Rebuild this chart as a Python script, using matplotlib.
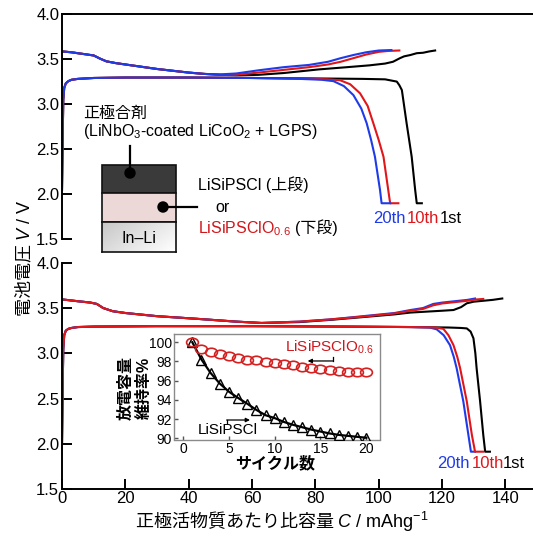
import matplotlib
matplotlib.use("Agg")
import matplotlib.pyplot as plt
from matplotlib.patches import Rectangle, Circle
from matplotlib.lines import Line2D
from matplotlib.path import Path
import numpy as np

plt.rcParams['font.family'] = ['Liberation Sans', 'Noto Sans CJK JP']
plt.rcParams['mathtext.fontset'] = 'custom'
plt.rcParams['mathtext.rm'] = 'Liberation Sans'
plt.rcParams['mathtext.it'] = 'Liberation Sans:italic'
plt.rcParams['mathtext.bf'] = 'Liberation Sans:bold'

# ---------------- data ----------------
cycle_labels = ["1st", "10th", "20th"]
colors = {"1st": "#000000", "10th": "#e0161b", "20th": "#1f3be8"}

# Top panel: LiSiPSCl  (upper curve)
top_up_x_1st = [0, 3, 6, 8, 10, 12, 14, 17, 20, 25, 30, 35, 40, 45, 50, 55, 62, 70, 81, 90, 97, 102, 104.5, 106.7, 108, 110, 112, 114, 116, 117.8]
top_up_v_1st = [3.585, 3.575, 3.56, 3.55, 3.54, 3.505, 3.475, 3.455, 3.44, 3.415, 3.39, 3.37, 3.35, 3.335, 3.325, 3.32, 3.325, 3.345, 3.385, 3.41, 3.43, 3.45, 3.47, 3.51, 3.53, 3.545, 3.565, 3.57, 3.585, 3.595]
top_up_x_10th = [0, 3, 6, 8, 10, 12, 14, 17, 20, 25, 30, 35, 40, 45, 50, 55, 62, 70, 78, 84, 88, 92, 96, 100, 103, 106.5]
top_up_v_10th = [3.585, 3.575, 3.56, 3.55, 3.54, 3.505, 3.475, 3.455, 3.44, 3.415, 3.39, 3.37, 3.35, 3.335, 3.325, 3.325, 3.35, 3.38, 3.41, 3.44, 3.47, 3.51, 3.55, 3.58, 3.59, 3.595]
top_up_x_20th = [0, 3, 6, 8, 10, 12, 14, 17, 20, 25, 30, 35, 40, 45, 50, 55, 62, 70, 78, 84, 88, 92, 96, 100, 104]
top_up_v_20th = [3.585, 3.575, 3.56, 3.55, 3.54, 3.505, 3.475, 3.455, 3.44, 3.415, 3.39, 3.37, 3.35, 3.335, 3.33, 3.34, 3.375, 3.41, 3.435, 3.47, 3.51, 3.545, 3.575, 3.595, 3.6]

# Top panel: lower curve
top_lo_x_1st = [0, 0.2, 0.4, 0.7, 1.2, 2, 3, 5, 10, 20, 40, 60, 80, 95, 102, 105.7, 106.5, 107.3, 108.8, 110.4, 111.5, 112, 113.6]
top_lo_v_1st = [2.05, 2.6, 3.05, 3.18, 3.23, 3.255, 3.27, 3.28, 3.29, 3.295, 3.295, 3.29, 3.285, 3.28, 3.275, 3.25, 3.21, 3.156, 2.787, 2.416, 2.047, 1.90, 1.90]
top_lo_x_10th = [0, 0.2, 0.4, 0.7, 1.2, 2, 3, 5, 10, 20, 40, 60, 75, 84, 87.8, 91, 94.1, 96.5, 98.3, 100, 101.5, 103, 103.6, 106.2]
top_lo_v_10th = [2.05, 2.6, 3.05, 3.18, 3.23, 3.255, 3.27, 3.28, 3.29, 3.295, 3.295, 3.29, 3.285, 3.275, 3.265, 3.22, 3.12, 2.98, 2.787, 2.6, 2.416, 2.047, 1.90, 1.90]
top_lo_x_20th = [0, 0.2, 0.4, 0.7, 1.2, 2, 3, 5, 10, 20, 40, 60, 75, 82, 85.7, 89, 92, 94.5, 96.2, 97.6, 98.8, 100.4, 100.9, 103.6]
top_lo_v_20th = [2.05, 2.6, 3.05, 3.18, 3.23, 3.255, 3.27, 3.28, 3.29, 3.295, 3.295, 3.29, 3.28, 3.27, 3.255, 3.2, 3.10, 2.95, 2.787, 2.6, 2.416, 2.047, 1.90, 1.90]

# Bottom panel: LiSiPSClO0.6 (upper curve)
bot_up_x_1st = [0, 5, 9, 11, 13, 16, 20, 30, 43, 55, 63, 75, 85, 95, 105, 110, 115, 120, 123.6, 126, 127.8, 130, 133, 136, 139]
bot_up_v_1st = [3.595, 3.575, 3.56, 3.545, 3.5, 3.465, 3.445, 3.41, 3.38, 3.35, 3.335, 3.345, 3.37, 3.40, 3.43, 3.45, 3.46, 3.47, 3.478, 3.51, 3.552, 3.57, 3.58, 3.59, 3.605]
bot_up_x_10th = [0, 5, 9, 11, 13, 16, 20, 30, 43, 55, 63, 75, 85, 95, 105, 110, 114, 117.2, 120, 124, 128, 131, 133]
bot_up_v_10th = [3.595, 3.575, 3.56, 3.545, 3.5, 3.465, 3.445, 3.41, 3.38, 3.35, 3.335, 3.35, 3.375, 3.405, 3.44, 3.47, 3.49, 3.53, 3.55, 3.565, 3.58, 3.595, 3.60]
bot_up_x_20th = [0, 5, 9, 11, 13, 16, 20, 30, 43, 55, 63, 75, 85, 95, 105, 110, 114, 117.2, 120, 124, 128, 130.4]
bot_up_v_20th = [3.595, 3.575, 3.56, 3.545, 3.5, 3.465, 3.445, 3.41, 3.38, 3.35, 3.335, 3.35, 3.375, 3.41, 3.445, 3.478, 3.50, 3.545, 3.56, 3.575, 3.59, 3.605]

# Bottom panel: lower curve
bot_lo_x_1st = [0, 0.2, 0.4, 0.7, 1.2, 2, 3, 5, 10, 30, 60, 90, 110, 122, 126, 127.8, 129, 129.9, 130.5, 130.9, 132, 133, 133.6, 135.1]
bot_lo_v_1st = [2.0, 2.6, 3.05, 3.2, 3.25, 3.27, 3.28, 3.29, 3.295, 3.3, 3.3, 3.295, 3.29, 3.285, 3.28, 3.275, 3.24, 3.166, 3.0, 2.835, 2.47, 2.10, 1.915, 1.915]
bot_lo_x_10th = [0, 0.2, 0.4, 0.7, 1.2, 2, 3, 5, 10, 30, 60, 90, 110, 118, 120.4, 122, 123.6, 124.8, 125.7, 127.8, 129.4, 130.4, 133]
bot_lo_v_10th = [2.0, 2.6, 3.05, 3.2, 3.25, 3.27, 3.28, 3.29, 3.295, 3.3, 3.3, 3.295, 3.29, 3.285, 3.27, 3.2, 3.09, 2.96, 2.835, 2.47, 2.10, 1.915, 1.915]
bot_lo_x_20th = [0, 0.2, 0.4, 0.7, 1.2, 2, 3, 5, 10, 30, 60, 90, 110, 116, 118.3, 120.5, 122.5, 123.7, 124.6, 126.7, 128.3, 129.1, 130.4]
bot_lo_v_20th = [2.0, 2.6, 3.05, 3.2, 3.25, 3.27, 3.28, 3.29, 3.295, 3.3, 3.3, 3.295, 3.29, 3.285, 3.265, 3.2, 3.09, 2.96, 2.835, 2.47, 2.10, 1.915, 1.915]

# Inset: capacity retention vs cycle
cycles = list(range(1, 21))
ret_oxy = [100.0, 99.3, 99.0, 98.8, 98.6, 98.35, 98.2, 98.1, 97.95, 97.8, 97.75, 97.6, 97.45, 97.35, 97.25, 97.1, 97.0, 96.95, 96.9, 96.9]
ret_cl = [100.0, 98.2, 96.8, 95.7, 94.85, 94.2, 93.6, 92.95, 92.4, 92.1, 91.7, 91.4, 91.15, 90.9, 90.7, 90.5, 90.35, 90.25, 90.15, 90.05]

x_ticks = [0, 20, 40, 60, 80, 100, 120, 140]
y_ticks = [1.5, 2.0, 2.5, 3.0, 3.5, 4.0]
inset_x_ticks = [0, 5, 10, 15, 20]
inset_y_ticks = [90, 92, 94, 96, 98, 100]

# ---------------- figure ----------------
W, H = 533, 536
fig = plt.figure(figsize=(W / 100, H / 100), dpi=100)


def fx(px):
    return px / W


def fy(py):
    return 1 - py / H


ax_top = fig.add_axes([fx(62), fy(239.3), 1 - fx(62), fy(14) - fy(239.3)])
ax_bot = fig.add_axes([fx(62), fy(489.3), 1 - fx(62), fy(262.7) - fy(489.3)])

LW = 1.5
for ax in (ax_top, ax_bot):
    ax.set_xlim(0, 148.7)
    ax.set_ylim(1.5, 4.0)
    ax.set_yticks(y_ticks)
    ax.set_yticklabels([f"{t:.1f}" for t in y_ticks], fontsize=12)
    ax.spines['right'].set_visible(False)
    for s in ax.spines.values():
        s.set_linewidth(1.4)
    ax.tick_params(axis='y', direction='in', length=7, width=1.4, pad=2)
    ax.tick_params(axis='x', direction='in', length=7, width=1.4, pad=1)
    ax.patch.set_alpha(0)

ax_top.spines['bottom'].set_visible(False)
ax_top.set_xticks([])
ax_bot.spines['top'].set_visible(False)
ax_bot.set_xticks(x_ticks)
ax_bot.set_xticklabels([str(t) for t in x_ticks], fontsize=12)

# top panel curves (blue drawn last)
top_up = {"1st": (top_up_x_1st, top_up_v_1st), "10th": (top_up_x_10th, top_up_v_10th), "20th": (top_up_x_20th, top_up_v_20th)}
top_lo = {"1st": (top_lo_x_1st, top_lo_v_1st), "10th": (top_lo_x_10th, top_lo_v_10th), "20th": (top_lo_x_20th, top_lo_v_20th)}
for lab in ["1st", "10th", "20th"]:
    ax_top.plot(*top_up[lab], color=colors[lab], lw=LW, solid_joinstyle='round')
    ax_top.plot(*top_lo[lab], color=colors[lab], lw=LW, solid_joinstyle='round')

bot_up = {"1st": (bot_up_x_1st, bot_up_v_1st), "10th": (bot_up_x_10th, bot_up_v_10th), "20th": (bot_up_x_20th, bot_up_v_20th)}
bot_lo = {"1st": (bot_lo_x_1st, bot_lo_v_1st), "10th": (bot_lo_x_10th, bot_lo_v_10th), "20th": (bot_lo_x_20th, bot_lo_v_20th)}
for lab in ["1st", "20th", "10th"]:
    ax_bot.plot(*bot_up[lab], color=colors[lab], lw=LW, solid_joinstyle='round')
    ax_bot.plot(*bot_lo[lab], color=colors[lab], lw=LW, solid_joinstyle='round')

# cycle labels
for ax, xs, yv in ((ax_top, [98.2, 108.9, 119.4], 1.736), (ax_bot, [118.3, 129.3, 139.3], 1.787)):
    for lab, xx in zip(["20th", "10th", "1st"], xs):
        ax.text(xx, yv, lab, color=colors[lab], fontsize=12, ha='left', va='center')

# axis labels (CJK family so the non-math part renders)
fig.text(fx(282), fy(522), r"正極活物質あたり比容量 $C\ /\ \mathrm{mAhg}^{-1}$", fontsize=13,
         ha='center', va='center', family='Noto Sans CJK JP')
fig.text(fx(24), fy(258), r"電池電圧 $V\ /\ \mathrm{V}$", fontsize=13, rotation=90,
         ha='center', va='center', family='Noto Sans CJK JP')

# ---------------- cell diagram ----------------
bx0, bx1 = 102, 176
layers = [(165, 193, '#3a3a3a'), (193, 222, '#ecd9d7')]
for y0, y1, c in layers:
    fig.add_artist(Rectangle((fx(bx0), fy(y1)), fx(bx1) - fx(bx0), fy(y0) - fy(y1),
                             transform=fig.transFigure, facecolor=c, edgecolor='#111111', lw=1.2, zorder=5))
# In-Li gradient layer
ax_g = fig.add_axes([fx(bx0), fy(252), fx(bx1) - fx(bx0), fy(222) - fy(252)], zorder=5)
gx = np.linspace(0, 1, 60)
gy = np.linspace(0, 1, 20)
G = 0.78 + 0.22 * (0.65 * gx[None, :] + 0.35 * gy[:, None])
ax_g.imshow(G, cmap='gray', vmin=0, vmax=1, aspect='auto', extent=(0, 1, 0, 1), origin='upper')
ax_g.set_xticks([])
ax_g.set_yticks([])
for s in ax_g.spines.values():
    s.set_linewidth(1.2)
    s.set_color('#111111')
ax_g.text(0.5, 0.45, "In–Li", transform=ax_g.transAxes, ha='center', va='center', fontsize=11.5)

# connector dots & lines
fig.add_artist(Line2D([fx(130), fx(130)], [fy(173), fy(146)], transform=fig.transFigure, color='black', lw=1.6, zorder=6))
fig.add_artist(Line2D([fx(163), fx(197)], [fy(207), fy(207)], transform=fig.transFigure, color='black', lw=1.6, zorder=6))
fig.add_artist(Circle((fx(130), fy(173)), 5 / W, transform=fig.transFigure, color='black', zorder=7))
fig.add_artist(Circle((fx(163), fy(207)), 5 / W, transform=fig.transFigure, color='black', zorder=7))

fig.text(fx(83), fy(113), "正極合剤", fontsize=11.5, ha='left', va='center')
fig.text(fx(83), fy(132), "(LiNbO$_3$-coated LiCoO$_2$ + LGPS)", fontsize=11.5, ha='left', va='center')
fig.text(fx(198), fy(185), "LiSiPSCl (上段)", fontsize=11.5, ha='left', va='center')
fig.text(fx(215), fy(207), "or", fontsize=11.5, ha='left', va='center')
fig.text(fx(198), fy(229), "LiSiPSClO$_{0.6}$", fontsize=11.5, ha='left', va='center', color='#d0161b')
fig.text(fx(295), fy(228), "(下段)", fontsize=11.5, ha='left', va='center')

# ---------------- inset ----------------
ax_in = fig.add_axes([fx(174), fy(439.5), fx(380) - fx(174), fy(334) - fy(439.5)], zorder=8)
ax_in.set_facecolor('white')
ax_in.set_xlim(-1.0, 21.5)
ax_in.set_ylim(89.87, 100.86)
for s in ax_in.spines.values():
    s.set_color('#8a8a8a')
    s.set_linewidth(1.0)
ax_in.tick_params(direction='in', length=3, width=1.0, color='#555555', labelsize=10, pad=1.5)
ax_in.set_xticks(inset_x_ticks)
ax_in.set_yticks(inset_y_ticks)

ell = Path.unit_circle()
ell = Path(ell.vertices * np.array([1.0, 0.72]), ell.codes)
ax_in.plot(cycles, ret_cl, color='black', lw=1.6, zorder=3)
ax_in.plot(cycles, ret_cl, linestyle='none', marker='^', markersize=7, markerfacecolor='none',
           markeredgecolor='black', markeredgewidth=1.0, zorder=4)
ax_in.plot(cycles, ret_oxy, linestyle='none', marker=ell, markersize=8.5, markerfacecolor='none',
           markeredgecolor='#d42020', markeredgewidth=1.2, zorder=5)

ax_in.text(4.9, 90.9, "LiSiPSCl", fontsize=11, ha='center', va='center')
ax_in.text(15.9, 99.5, "LiSiPSClO$_{0.6}$", fontsize=11, ha='center', va='center', color='#d0161b')
# axis-pointer arrows
ax_in.annotate("", xy=(7.3, 91.9), xytext=(4.75, 91.9),
               arrowprops=dict(arrowstyle='-|>', color='black', lw=0.9, mutation_scale=6, shrinkA=0, shrinkB=0))
ax_in.plot([4.75, 4.75], [91.9, 91.55], color='black', lw=0.9)
ax_in.annotate("", xy=(13.6, 98.05), xytext=(16.4, 98.05),
               arrowprops=dict(arrowstyle='-|>', color='black', lw=0.9, mutation_scale=6, shrinkA=0, shrinkB=0))
ax_in.plot([16.4, 16.4], [98.05, 98.45], color='black', lw=0.9)

fig.text(fx(126), fy(388), "放電容量", fontsize=11.5, rotation=90, ha='center', va='center', weight='bold')
fig.text(fx(144), fy(388), "維持率%", fontsize=11.5, rotation=90, ha='center', va='center', weight='bold')
fig.text(fx(275), fy(463), "サイクル数", fontsize=11.5, ha='center', va='center', weight='bold')

fig.savefig("out.png", dpi=100)
